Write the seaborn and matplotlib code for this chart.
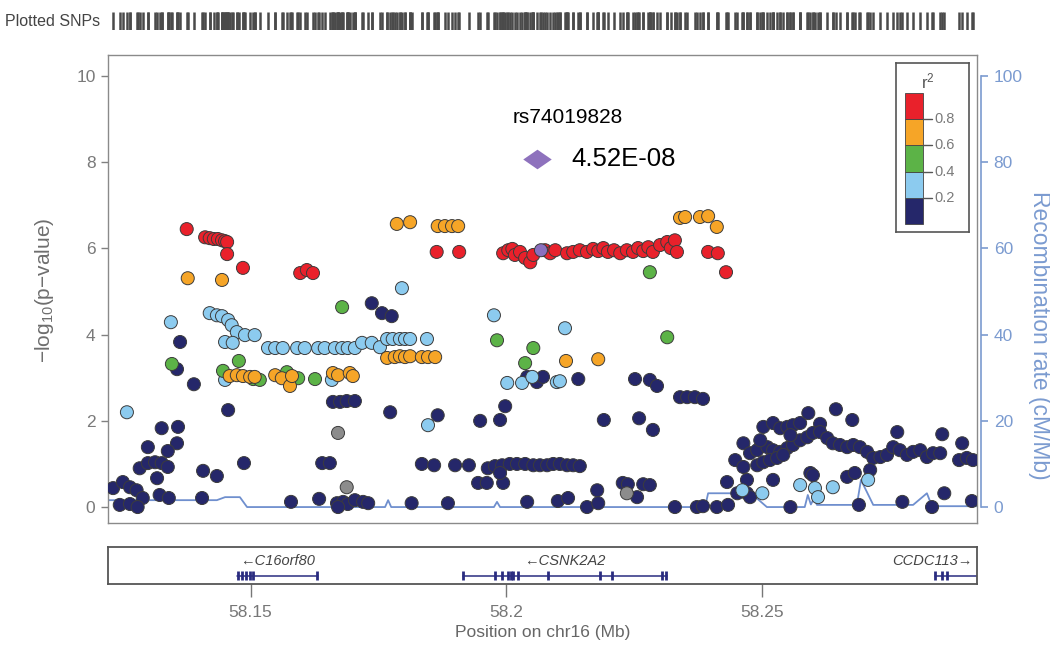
import numpy as np
import pandas as pd
import matplotlib
matplotlib.use("Agg")
import matplotlib.pyplot as plt
from matplotlib.patches import Rectangle
import seaborn as sns

# ---- SNP data (position in Mb, -log10 p) ----
red_pos = [58.1375, 58.1411, 58.1420, 58.1428, 58.1436, 58.1444, 58.1450, 58.1454, 58.1454, 58.1485,
           58.1597, 58.1610, 58.1622, 58.1864, 58.1908,
           58.1994, 58.2004, 58.2012, 58.2017, 58.2027, 58.2037, 58.2047, 58.2053, 58.2076, 58.2086, 58.2096,
           58.2119, 58.2131, 58.2144, 58.2158, 58.2170, 58.2180, 58.2190, 58.2199, 58.2211, 58.2223,
           58.2236, 58.2248, 58.2258, 58.2268, 58.2278, 58.2287, 58.2301, 58.2315, 58.2322, 58.2330,
           58.2334, 58.2395, 58.2414, 58.2430]
red_logp = [6.45, 6.26, 6.24, 6.22, 6.22, 6.19, 6.17, 6.15, 5.87, 5.55,
            5.43, 5.50, 5.43, 5.92, 5.92,
            5.89, 5.96, 5.99, 5.85, 5.92, 5.78, 5.68, 5.85, 5.96, 5.89, 5.96,
            5.89, 5.92, 5.96, 5.92, 5.99, 5.94, 6.01, 5.92, 5.96, 5.89,
            5.96, 5.92, 6.01, 5.94, 6.03, 5.92, 6.08, 6.15, 6.01, 6.19,
            5.92, 5.92, 5.89, 5.45]

orange_pos = [58.1377, 58.1444, 58.1786, 58.1812, 58.1866, 58.1880, 58.1894, 58.1906,
              58.2340, 58.2350, 58.2379, 58.2395, 58.2412,
              58.1459, 58.1473, 58.1485, 58.1499, 58.1508, 58.1548, 58.1561, 58.1577, 58.1581,
              58.1661, 58.1671, 58.1694, 58.1700, 58.1767, 58.1782, 58.1792, 58.1802, 58.1812,
              58.1835, 58.1847, 58.1861, 58.2117, 58.2180]
orange_logp = [5.31, 5.27, 6.57, 6.61, 6.52, 6.52, 6.52, 6.52,
               6.71, 6.73, 6.73, 6.75, 6.50,
               3.04, 3.06, 3.04, 3.02, 3.02, 3.06, 2.99, 2.81, 3.04,
               3.11, 3.06, 3.11, 3.04, 3.46, 3.48, 3.50, 3.48, 3.50,
               3.48, 3.48, 3.48, 3.39, 3.43]

green_pos = [58.1679, 58.1346, 58.1477, 58.1446, 58.1505, 58.1518, 58.1571, 58.1593, 58.1626,
             58.1982, 58.2037, 58.2053, 58.2315, 58.2281]
green_logp = [4.64, 3.32, 3.39, 3.16, 2.97, 2.95, 3.13, 2.99, 2.97,
              3.87, 3.34, 3.69, 3.94, 5.45]

ltblue_pos = [58.1258, 58.1344, 58.1420, 58.1434, 58.1444, 58.1456, 58.1463, 58.1473, 58.1489, 58.1508,
              58.1450, 58.1465, 58.1534, 58.1548, 58.1563, 58.1591, 58.1606, 58.1632, 58.1645, 58.1665,
              58.1679, 58.1690, 58.1704, 58.1718, 58.1737, 58.1753, 58.1767, 58.1778, 58.1792, 58.1802,
              58.1812, 58.1845, 58.1796, 58.1976, 58.1847, 58.1450, 58.1659, 58.2002, 58.2031, 58.2051,
              58.2099, 58.2105, 58.2115, 58.2462, 58.2501, 58.2575, 58.2604, 58.2610, 58.2639, 58.2708]
ltblue_logp = [2.20, 4.29, 4.50, 4.45, 4.43, 4.34, 4.22, 4.06, 3.99, 3.99,
               3.83, 3.81, 3.69, 3.69, 3.69, 3.69, 3.69, 3.69, 3.69, 3.69,
               3.69, 3.69, 3.69, 3.81, 3.81, 3.71, 3.90, 3.90, 3.90, 3.90,
               3.90, 3.90, 5.08, 4.45, 1.90, 2.95, 2.95, 2.88, 2.88, 3.02,
               2.90, 2.92, 4.15, 0.39, 0.32, 0.51, 0.44, 0.23, 0.46, 0.63]

gray_pos = [58.1671, 58.1688, 58.2236]
gray_logp = [1.72, 0.46, 0.32]

navy_pos = [58.1362, 58.1356, 58.1389, 58.1456, 58.1737, 58.1757, 58.1776, 58.1661, 58.1675, 58.1688,
            58.1704, 58.1773, 58.1866, 58.1949, 58.1988, 58.1998, 58.2041, 58.2060, 58.2072, 58.2141,
            58.2191, 58.2252, 58.2281, 58.2295, 58.2340, 58.2354, 58.2369, 58.2385, 58.2260, 58.2287,
            58.1326, 58.1358, 58.1356, 58.1338, 58.1299, 58.1283, 58.1299, 58.1313, 58.1326, 58.1338,
            58.1317, 58.1407, 58.1434, 58.1487, 58.1640, 58.1655, 58.1835, 58.1859, 58.1900, 58.1927,
            58.1964, 58.1978, 58.1992, 58.2007, 58.2021, 58.2037, 58.2053, 58.2066, 58.2080, 58.2092,
            58.2105, 58.2119, 58.2131, 58.2144, 58.1945, 58.1962, 58.1994, 58.1988,
            58.2178, 58.2228, 58.2238, 58.2268, 58.2281, 58.2256,
            58.1231, 58.1250, 58.1264, 58.1277, 58.1289, 58.1244, 58.1264, 58.1279, 58.1322, 58.1340,
            58.1405, 58.1579, 58.1634, 58.1669, 58.1681, 58.1690, 58.1704, 58.1720, 58.1730, 58.1671,
            58.1815, 58.1886, 58.2041, 58.2101, 58.2121, 58.2158, 58.2180, 58.2330, 58.2373, 58.2385,
            58.2412, 58.2434, 58.2556, 58.2690, 58.2775, 58.2833, 58.2857, 58.2911,
            58.2432, 58.2464, 58.2448, 58.2464, 58.2471, 58.2471, 58.2477, 58.2491, 58.2503, 58.2522,
            58.2536, 58.2550, 58.2561, 58.2575, 58.2591, 58.2614, 58.2645, 58.2677, 58.2765, 58.2853,
            58.2892, 58.2511, 58.2522, 58.2536, 58.2550, 58.2561, 58.2575, 58.2589, 58.2600, 58.2614,
            58.2628, 58.2639, 58.2653, 58.2667, 58.2679, 58.2692, 58.2706, 58.2718, 58.2732, 58.2745,
            58.2757, 58.2770, 58.2784, 58.2796, 58.2810, 58.2823, 58.2835, 58.2849, 58.2886, 58.2901,
            58.2913, 58.2491, 58.2503, 58.2516, 58.2530, 58.2542, 58.2522, 58.2595, 58.2600, 58.2667,
            58.2682, 58.2712, 58.2477, 58.2452, 58.2497, 58.2556]
navy_logp = [3.83, 3.20, 2.85, 2.25, 4.73, 4.50, 4.43, 2.44, 2.44, 2.46,
             2.46, 2.20, 2.13, 2.00, 2.02, 2.34, 3.02, 2.90, 3.02, 2.97,
             2.02, 2.97, 2.95, 2.81, 2.55, 2.55, 2.55, 2.51, 2.06, 1.79,
             1.83, 1.86, 1.48, 1.30, 1.39, 0.90, 1.02, 1.04, 1.02, 0.93,
             0.67, 0.84, 0.72, 1.02, 1.02, 1.02, 1.00, 0.97, 0.97, 0.97,
             0.90, 0.95, 0.97, 1.00, 1.00, 1.00, 0.97, 0.97, 0.97, 1.00,
             1.00, 0.97, 0.97, 0.95, 0.56, 0.56, 0.56, 0.79,
             0.39, 0.56, 0.53, 0.53, 0.51, 0.23,
             0.44, 0.58, 0.46, 0.39, 0.21, 0.05, 0.07, 0.00, 0.28, 0.21,
             0.21, 0.12, 0.19, 0.09, 0.12, 0.07, 0.16, 0.12, 0.09, 0.00,
             0.09, 0.09, 0.12, 0.14, 0.21, 0.00, 0.09, 0.00, 0.00, 0.02,
             0.00, 0.05, 0.00, 0.05, 0.12, 0.00, 0.32, 0.14,
             0.58, 1.48, 1.09, 0.93, 0.63, 0.32, 1.25, 1.32, 1.86, 1.95,
             1.83, 1.86, 1.90, 1.95, 2.18, 1.93, 2.27, 2.02, 1.74, 1.69,
             1.48, 1.39, 1.32, 1.28, 1.37, 1.44, 1.55, 1.62, 1.72, 1.74,
             1.60, 1.48, 1.44, 1.39, 1.44, 1.39, 1.28, 1.14, 1.16, 1.21,
             1.39, 1.32, 1.21, 1.28, 1.32, 1.16, 1.25, 1.25, 1.09, 1.14,
             1.09, 0.97, 1.04, 1.09, 1.14, 1.21, 0.63, 0.79, 0.74, 0.70,
             0.79, 0.86, 0.23, 0.32, 1.55, 1.67]

lead_pos = [58.2068]
lead_logp = [5.96]
lead_name = "rs74019828"
lead_pval = "4.52E-08"

# ---- recombination rate (cM/Mb) ----
recomb_pos = [58.1221, 58.1434, 58.1450, 58.1479, 58.1493, 58.1763, 58.1769, 58.1775, 58.1976, 58.1982,
              58.1988, 58.2389, 58.2395, 58.2479, 58.2510, 58.2584, 58.2590, 58.2596, 58.2602, 58.2608,
              58.2686, 58.2694, 58.2718, 58.2796, 58.2823, 58.2833, 58.2921]
recomb_rate = [1.6, 1.6, 2.3, 2.3, 0.0, 0.0, 1.6, 0.0, 0.0, 1.2,
               0.0, 0.0, 3.2, 3.2, 0.0, 0.0, 2.8, 0.6, 2.0, 0.5,
               0.5, 6.3, 0.5, 0.5, 3.2, 0.2, 0.2]

# ---- genes ----
gene_names = ["C16orf80", "CSNK2A2", "CCDC113"]
gene_start = [58.1473, 58.1915, 58.2838]
gene_end = [58.1632, 58.2315, 58.3000]
gene_strand = ["-", "-", "+"]
gene_exons = [[58.1475, 58.1483, 58.1491, 58.1499, 58.1505, 58.1630],
              [58.1915, 58.1978, 58.1992, 58.2004, 58.2009, 58.2013, 58.2023, 58.2082,
               58.2184, 58.2207, 58.2305, 58.2313],
              [58.2838, 58.2853, 58.2863]]

x_ticks = [58.15, 58.2, 58.25]
x_ticklabels = ["58.15", "58.2", "58.25"]
r2_breaks = [0.2, 0.4, 0.6, 0.8]

ld_colors = {"0.0-0.2": "#25276a", "NA": "#8c8c8c", "0.2-0.4": "#8ccbef",
             "0.4-0.6": "#5cb347", "0.6-0.8": "#f6a527", "0.8-1.0": "#e9212b",
             "lead": "#8a6fbf"}
groups = [("0.0-0.2", navy_pos, navy_logp), ("NA", gray_pos, gray_logp),
          ("0.2-0.4", ltblue_pos, ltblue_logp), ("0.4-0.6", green_pos, green_logp),
          ("0.6-0.8", orange_pos, orange_logp), ("0.8-1.0", red_pos, red_logp),
          ("lead", lead_pos, lead_logp)]
snps = pd.concat([pd.DataFrame({"pos": p, "logp": l, "ld": name}) for name, p, l in groups],
                 ignore_index=True)

sns.set_style("white")
plt.rcParams["font.family"] = ["Liberation Sans", "DejaVu Sans"]
plt.rcParams["mathtext.fontset"] = "custom"
plt.rcParams["mathtext.rm"] = "Liberation Sans"
plt.rcParams["mathtext.default"] = "regular"

W, H = 1050, 657
fig = plt.figure(figsize=(W / 100, H / 100), dpi=100)
ax = fig.add_axes([108 / W, 1 - 523 / H, 869 / W, 468 / H])
rax = ax.twinx()

# recombination line behind the points
sns.lineplot(x=recomb_pos, y=recomb_rate, ax=rax, color="#6f8fce", lw=1.3)
ax.set_zorder(rax.get_zorder() + 1)
ax.patch.set_visible(False)

sns.scatterplot(data=snps, x="pos", y="logp", hue="ld", palette=ld_colors, s=88,
                edgecolor="#3c3c3c", linewidth=0.7, legend=False, ax=ax, zorder=3)

xmin, xmax = 58.1221, 58.2921
ax.set_xlim(xmin, xmax)
ax.set_ylim(-0.37, 10.49)
rax.set_ylim(-3.7, 104.9)
ax.set_xlabel("")
ax.set_ylabel("")
ax.set_yticks([0, 2, 4, 6, 8, 10])
ax.tick_params(axis="x", bottom=False, labelbottom=False)
ax.tick_params(axis="y", left=True, direction="out", length=5, width=1, color="#808080",
               labelsize=12.5, labelcolor="#7a7a7a", pad=4)
for s in ax.spines.values():
    s.set_color("#8a8a8a")
    s.set_linewidth(1.0)

rcol = "#7b9bd0"
for k in ["left", "top", "bottom"]:
    rax.spines[k].set_visible(False)
rax.spines["right"].set_position(("outward", 3))
rax.spines["right"].set_bounds(0, 100)
rax.spines["right"].set_color(rcol)
rax.spines["right"].set_linewidth(1.2)
rax.set_yticks([0, 20, 40, 60, 80, 100])
rax.tick_params(axis="y", right=True, direction="out", length=5, width=1.2, color=rcol,
                labelsize=12.5, labelcolor=rcol, pad=4)
rax.set_ylabel("")

fig.text(45 / W, 1 - 290 / H, r"$-$log$_{10}$(p$-$value)", rotation=90, ha="center",
         va="center", fontsize=15, color="#6e6e6e")
fig.text(1040 / W, 1 - 335 / H, "Recombination rate (cM/Mb)", rotation=-90, ha="center",
         va="center", fontsize=16.5, color=rcol)

# lead SNP annotation
ax.text(58.2121, 9.05, lead_name, ha="center", va="center", fontsize=15, color="black")
diamond = [(-1.45, 0), (0, 1), (1.45, 0), (0, -1), (-1.45, 0)]
ax.scatter([58.2060], [8.07], marker=diamond, s=420, color="#8e72bd", zorder=4, linewidths=0)
ax.text(58.2127, 8.07, lead_pval, ha="left", va="center", fontsize=18.5, color="black")

# r^2 legend box
lax = fig.add_axes([896 / W, 1 - 232 / H, 73 / W, 169 / H])
lax.set_xlim(0, 1)
lax.set_ylim(0, 1)
lax.set_xticks([])
lax.set_yticks([])
for s in lax.spines.values():
    s.set_color("#555555")
    s.set_linewidth(1.2)
bin_cols = [ld_colors["0.0-0.2"], ld_colors["0.2-0.4"], ld_colors["0.4-0.6"],
            ld_colors["0.6-0.8"], ld_colors["0.8-1.0"]]
edges = [0.0] + r2_breaks + [1.0]
y0, yscale = 0.047, 0.775
for i, c in enumerate(bin_cols):
    lax.add_patch(Rectangle((0.123, y0 + edges[i] * yscale), 0.247,
                            (edges[i + 1] - edges[i]) * yscale, facecolor=c,
                            edgecolor="#444444", lw=0.6))
for b in r2_breaks:
    yy = y0 + b * yscale
    lax.plot([0.37, 0.49], [yy, yy], color="#555555", lw=1)
    lax.text(0.53, yy, f"{b:.1f}", ha="left", va="center", fontsize=10.5, color="#7a7a7a")
lax.text(0.44, 0.89, "r$^2$", ha="center", va="center", fontsize=12, color="#555555")

# plotted SNPs rug
rug = fig.add_axes([108 / W, 1 - 30 / H, 869 / W, 18 / H])
rug.vlines(snps["pos"], 0, 1, color="#4a4a4a", lw=1.8)
rug.set_xlim(xmin, xmax)
rug.set_ylim(0, 1)
rug.axis("off")
fig.text(5 / W, 1 - 21 / H, "Plotted SNPs", ha="left", va="center", fontsize=11.5,
         color="#444444")

# gene track
gax = fig.add_axes([108 / W, 1 - 584 / H, 869 / W, 37 / H])
gax.set_xlim(xmin, xmax)
gax.set_ylim(0, 1)
gcol = "#2a2c80"
for name, st, en, strand, exons in zip(gene_names, gene_start, gene_end, gene_strand, gene_exons):
    gax.plot([st, min(en, xmax)], [0.22, 0.22], color=gcol, lw=1.1, clip_on=True)
    gax.vlines(exons, 0.1, 0.34, color=gcol, lw=2.0)
    if strand == "-":
        label = "\u2190" + name
    else:
        label = name + "\u2192"
    if en > xmax:
        gax.text(xmax - 0.0008, 0.62, label, ha="right", va="center", fontsize=10.5,
                 style="italic", color="#444444")
    else:
        gax.text((st + en) / 2, 0.62, label, ha="center", va="center", fontsize=10.5,
                 style="italic", color="#444444")
for s in gax.spines.values():
    s.set_color("#555555")
    s.set_linewidth(1.3)
gax.set_yticks([])
gax.set_xticks(x_ticks)
gax.set_xticklabels(x_ticklabels)
gax.tick_params(axis="x", bottom=True, direction="out", length=9, width=1, color="#777777",
                labelsize=12.5, labelcolor="#777777", pad=6)
gax.set_xlabel("Position on chr16 (Mb)", fontsize=12.5, color="#666666", labelpad=4)

fig.savefig("out.png", dpi=100)
